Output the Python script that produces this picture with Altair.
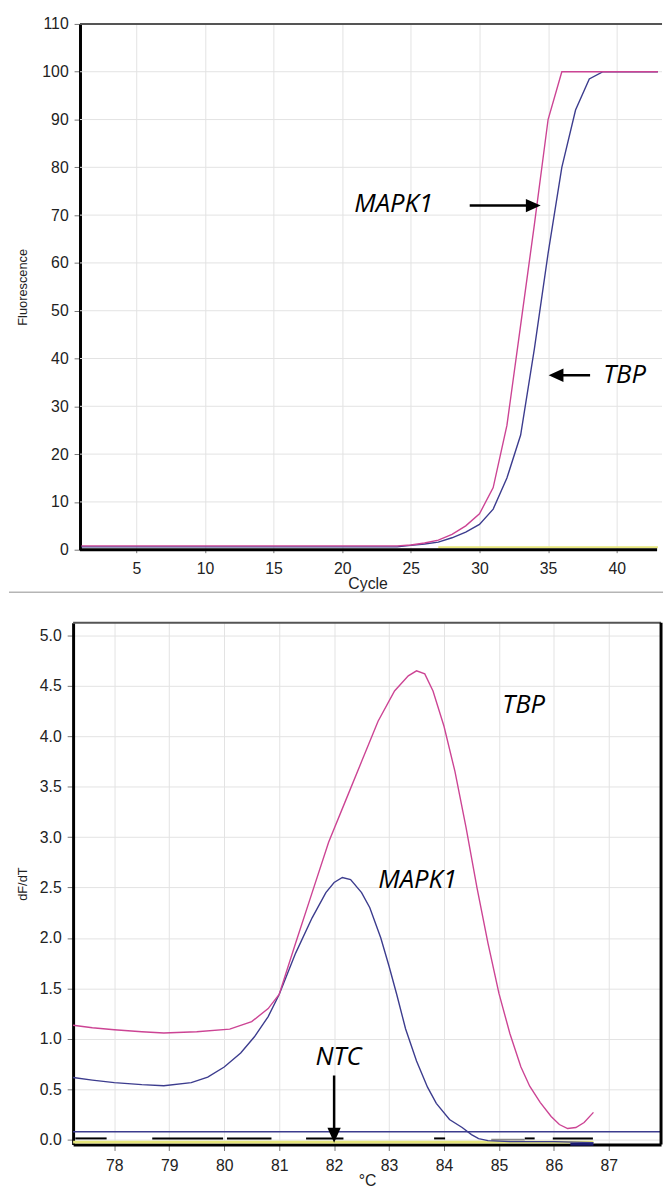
import altair as alt
import pandas as pd

# ---------------- Amplification plot (top) ----------------
cycles = [1, 2, 3, 4, 5, 6, 7, 8, 9, 10, 11, 12, 13, 14, 15, 16, 17, 18, 19, 20,
          21, 22, 23, 24, 25, 26, 27, 28, 29, 30, 31, 32, 33, 34, 35, 36, 37, 38,
          39, 40, 41, 42, 43]
mapk1_amp = [0.8, 0.8, 0.8, 0.8, 0.8, 0.8, 0.8, 0.8, 0.8, 0.8, 0.8, 0.8, 0.8, 0.8,
             0.8, 0.8, 0.8, 0.8, 0.8, 0.8, 0.8, 0.8, 0.8, 0.8, 1.0, 1.4, 2.0, 3.2,
             5.0, 7.5, 13.0, 26.0, 47.0, 68.0, 90.0, 100.0, 100.0, 100.0, 100.0,
             100.0, 100.0, 100.0, 100.0]
tbp_amp = [0.6, 0.6, 0.6, 0.6, 0.6, 0.6, 0.6, 0.6, 0.6, 0.6, 0.6, 0.6, 0.6, 0.6,
           0.6, 0.6, 0.6, 0.6, 0.6, 0.6, 0.6, 0.6, 0.6, 0.6, 0.9, 1.2, 1.6, 2.5,
           3.7, 5.3, 8.5, 15.0, 24.0, 42.0, 62.0, 80.0, 92.0, 98.5, 100.0, 100.0,
           100.0, 100.0, 100.0]
ntc_amp_cycles = [27, 43]
ntc_amp_values = [0.5, 0.5]

amp_x_ticks = [5, 10, 15, 20, 25, 30, 35, 40]
amp_y_ticks = [0, 10, 20, 30, 40, 50, 60, 70, 80, 90, 100, 110]
amp_grid_y = [10, 20, 30, 40, 50, 60, 70, 80, 90, 100]

amp_label_text = ["MAPK1", "TBP"]
amp_label_cycle = [23.75, 40.57]
amp_label_fluor = [72.3, 36.5]
amp_arrow_start = [29.29, 38.06]
amp_arrow_shaft_end = [33.9, 35.6]
amp_arrow_tip = [34.46, 35.04]
amp_arrow_fluor = [72.0, 36.5]

# ---------------- Melt curve (bottom) ----------------
tbp_melt_temp = [77.25, 77.6, 78.0, 78.5, 78.9, 79.5, 80.1, 80.5, 80.8, 81.0, 81.3,
                 81.6, 81.9, 82.2, 82.5, 82.8, 83.1, 83.35, 83.5, 83.65, 83.8, 84.0,
                 84.2, 84.4, 84.6, 84.8, 85.0, 85.2, 85.4, 85.56, 85.75, 85.95, 86.1,
                 86.25, 86.4, 86.55, 86.72]
tbp_melt_dfdt = [1.135, 1.11, 1.09, 1.07, 1.057, 1.07, 1.096, 1.17, 1.3, 1.44, 1.95,
                 2.45, 2.95, 3.35, 3.75, 4.15, 4.45, 4.6, 4.65, 4.62, 4.45, 4.1,
                 3.65, 3.1, 2.5, 1.95, 1.45, 1.05, 0.72, 0.53, 0.37, 0.23, 0.15,
                 0.11, 0.12, 0.17, 0.27]
mapk1_melt_temp = [77.25, 77.6, 78.0, 78.5, 78.9, 79.4, 79.7, 80.0, 80.3, 80.55, 80.8,
                   81.0, 81.3, 81.6, 81.85, 82.0, 82.15, 82.3, 82.5, 82.65, 82.85,
                   83.0, 83.14, 83.3, 83.5, 83.7, 83.86, 84.1, 84.33, 84.5, 84.63,
                   84.8, 85.2, 86.0, 86.72]
mapk1_melt_dfdt = [0.616, 0.59, 0.565, 0.545, 0.535, 0.565, 0.62, 0.72, 0.86, 1.02,
                   1.22, 1.44, 1.85, 2.2, 2.45, 2.55, 2.6, 2.58, 2.45, 2.3, 2.0, 1.72,
                   1.44, 1.1, 0.78, 0.52, 0.36, 0.2, 0.12, 0.05, 0.01, -0.01, -0.02,
                   -0.02, -0.03]
threshold_temp = [77.25, 87.95]
threshold_dfdt = [0.078, 0.078]
ntc_yellow_temp = [77.25, 86.72]
ntc_yellow_dfdt = [-0.025, -0.025]
ntc_seg_start = [77.29, 78.69, 80.05, 81.49, 83.82, 85.47, 85.98]
ntc_seg_end = [77.86, 79.98, 80.86, 82.17, 84.02, 85.65, 86.71]
ntc_seg_dfdt = [0.012, 0.012, 0.012, 0.012, 0.012, 0.012, 0.012]
gray_seg_start = [84.86]
gray_seg_end = [85.47]
gray_seg_dfdt = [0.0]
navy_seg_start = [86.3]
navy_seg_end = [86.72]
navy_seg_dfdt = [-0.045]

melt_x_ticks = [78, 79, 80, 81, 82, 83, 84, 85, 86, 87]
melt_y_ticks = [0.0, 0.5, 1.0, 1.5, 2.0, 2.5, 3.0, 3.5, 4.0, 4.5, 5.0]

melt_label_text = ["TBP", "MAPK1", "NTC"]
melt_label_temp = [85.45, 83.52, 82.08]
melt_label_dfdt = [4.31, 2.57, 0.82]
ntc_arrow_temp = [82.0]
ntc_arrow_start = [0.636]
ntc_arrow_shaft_end = [0.07]
ntc_arrow_tip = [-0.03]

# ---------------- styling ----------------
FONT = "Liberation Sans"
ANN_FONT = "Open Sans"
PINK = "#cc4494"
NAVY = "#3c3c8e"
YELLOW = "#e6e67a"
GRID = "#e3e3e3"
TICK = "#777777"
RIGHT_HEAD = "M0,0L-2,-0.9L-2,0.9Z"
LEFT_HEAD = "M0,0L2,-0.9L2,0.9Z"
DOWN_HEAD = "M0,0L-0.9,-2L0.9,-2Z"
LABEL_SIZE = 16
XTITLE_SIZE = 16
YTITLE_SIZE = 13
ANN_SIZE = 26

# ---------------- top chart ----------------
TOP_W, TOP_H = 597, 533
amp_xscale = alt.Scale(domain=[0.397, 43.3], nice=False, zero=False)
amp_yscale = alt.Scale(domain=[0, 110], nice=False, zero=False)
amp_xaxis = alt.Axis(values=amp_x_ticks, grid=True, gridColor=GRID, domain=False,
                     tickSize=3, tickColor=TICK, labelPadding=8,
                     labelFontSize=LABEL_SIZE, title="Cycle",
                     titleFontSize=XTITLE_SIZE, titlePadding=-1)
amp_yaxis = alt.Axis(values=amp_y_ticks, grid=False, offset=-7, domainColor="black",
                     domainWidth=3, tickSize=6, tickColor=TICK, labelPadding=6,
                     labelFontSize=LABEL_SIZE, title="Fluorescence",
                     titleFontSize=YTITLE_SIZE, titlePadding=13)
AX = alt.X("Cycle:Q", scale=amp_xscale, axis=amp_xaxis)
AY = alt.Y("Fluorescence:Q", scale=amp_yscale, axis=amp_yaxis)

def amp_line(xs, ys, color, width):
    df = pd.DataFrame({"Cycle": xs, "Fluorescence": ys})
    return alt.Chart(df).mark_line(color=color, strokeWidth=width).encode(x=AX, y=AY)

one = pd.DataFrame({"k": [0]})

amp_hgrid = alt.Chart(pd.DataFrame({"Fluorescence": amp_grid_y})).mark_rule(
    color=GRID, strokeWidth=1).encode(y=AY, x=alt.value(7), x2=alt.value(TOP_W))
amp_ntc = amp_line(ntc_amp_cycles, ntc_amp_values, YELLOW, 2)
amp_tbp = amp_line(cycles, tbp_amp, NAVY, 1.4)
amp_mapk1 = amp_line(cycles, mapk1_amp, PINK, 1.4)
amp_top_border = alt.Chart(one).mark_rule(color="#555555", strokeWidth=2).encode(
    y=alt.value(0), x=alt.value(7), x2=alt.value(TOP_W))
amp_bottom_line = alt.Chart(one).mark_rule(color="black", strokeWidth=3).encode(
    y=alt.value(TOP_H), x=alt.value(7), x2=alt.value(592))

amp_arrows = pd.DataFrame({"Cycle": amp_arrow_start, "Cycle2": amp_arrow_shaft_end,
                           "Fluorescence": amp_arrow_fluor})
amp_shafts = alt.Chart(amp_arrows).mark_rule(color="black", strokeWidth=2.5).encode(
    x=AX, x2="Cycle2:Q", y=AY)
amp_head_r = alt.Chart(pd.DataFrame({"Cycle": [amp_arrow_tip[0]],
                                     "Fluorescence": [amp_arrow_fluor[0]]})).mark_point(
    shape=RIGHT_HEAD, size=225, filled=True, color="black", opacity=1, strokeWidth=0
).encode(x=AX, y=AY)
amp_head_l = alt.Chart(pd.DataFrame({"Cycle": [amp_arrow_tip[1]],
                                     "Fluorescence": [amp_arrow_fluor[1]]})).mark_point(
    shape=LEFT_HEAD, size=225, filled=True, color="black", opacity=1, strokeWidth=0
).encode(x=AX, y=AY)
amp_labels = alt.Chart(pd.DataFrame({"Cycle": amp_label_cycle,
                                     "Fluorescence": amp_label_fluor,
                                     "label": amp_label_text})).mark_text(
    font=ANN_FONT, fontStyle="italic", fontSize=ANN_SIZE, color="black",
    align="center", baseline="middle").encode(x=AX, y=AY, text="label:N")

top = alt.layer(amp_hgrid, amp_ntc, amp_tbp, amp_mapk1, amp_top_border,
                amp_bottom_line, amp_shafts, amp_head_r, amp_head_l,
                amp_labels).properties(width=TOP_W, height=TOP_H)

# ---------------- bottom chart ----------------
BOT_W, BOT_H = 596, 529
melt_xscale = alt.Scale(domain=[77.25, 87.95], nice=False, zero=False)
melt_yscale = alt.Scale(domain=[-0.049, 5.127], nice=False, zero=False)
melt_xaxis = alt.Axis(values=melt_x_ticks, format="d", grid=True, gridColor=GRID,
                      domainColor="black", domainWidth=3, tickSize=6, tickColor=TICK,
                      labelPadding=7, labelFontSize=LABEL_SIZE, title="°C",
                      titleFontSize=XTITLE_SIZE, titlePadding=0)
melt_yaxis = alt.Axis(values=melt_y_ticks, format=".1f", grid=True, gridColor=GRID,
                      domainColor="black", domainWidth=3, tickSize=6, tickColor=TICK,
                      labelPadding=6, labelFontSize=LABEL_SIZE, title="dF/dT",
                      titleFontSize=YTITLE_SIZE, titlePadding=10)
MX = alt.X("Temp:Q", scale=melt_xscale, axis=melt_xaxis)
MY = alt.Y("dFdT:Q", scale=melt_yscale, axis=melt_yaxis)

def melt_line(xs, ys, color, width):
    df = pd.DataFrame({"Temp": xs, "dFdT": ys})
    return alt.Chart(df).mark_line(color=color, strokeWidth=width).encode(x=MX, y=MY)

def melt_segments(starts, ends, levels, color, width):
    df = pd.DataFrame({"Temp": starts, "Temp2": ends, "dFdT": levels})
    return alt.Chart(df).mark_rule(color=color, strokeWidth=width).encode(
        x=MX, x2="Temp2:Q", y=MY)

m_yellow = melt_line(ntc_yellow_temp, ntc_yellow_dfdt, YELLOW, 3)
m_threshold = melt_line(threshold_temp, threshold_dfdt, NAVY, 1.5)
m_ntc = melt_segments(ntc_seg_start, ntc_seg_end, ntc_seg_dfdt, "black", 2)
m_gray = melt_segments(gray_seg_start, gray_seg_end, gray_seg_dfdt, "#888888", 2)
m_navy = melt_segments(navy_seg_start, navy_seg_end, navy_seg_dfdt, "#1a1a70", 3)
m_mapk1 = melt_line(mapk1_melt_temp, mapk1_melt_dfdt, NAVY, 1.4)
m_tbp = melt_line(tbp_melt_temp, tbp_melt_dfdt, PINK, 1.4)

m_top_border = alt.Chart(one).mark_rule(color="#555555", strokeWidth=2).encode(
    y=alt.value(0), x=alt.value(0), x2=alt.value(BOT_W))
m_right_border = alt.Chart(one).mark_rule(color="black", strokeWidth=3).encode(
    x=alt.value(BOT_W), y=alt.value(0), y2=alt.value(BOT_H))
m_separator = alt.Chart(one).mark_rule(color="#b5b5b5", strokeWidth=1.5).encode(
    y=alt.value(-31), x=alt.value(-65), x2=alt.value(598))

m_shaft = alt.Chart(pd.DataFrame({"Temp": ntc_arrow_temp, "dFdT": ntc_arrow_start,
                                  "dFdT2": ntc_arrow_shaft_end})).mark_rule(
    color="black", strokeWidth=2.5).encode(x=MX, y=MY, y2="dFdT2:Q")
m_head = alt.Chart(pd.DataFrame({"Temp": ntc_arrow_temp, "dFdT": ntc_arrow_tip})).mark_point(
    shape=DOWN_HEAD, size=225, filled=True, color="black", opacity=1, strokeWidth=0
).encode(x=MX, y=MY)
m_labels = alt.Chart(pd.DataFrame({"Temp": melt_label_temp, "dFdT": melt_label_dfdt,
                                   "label": melt_label_text})).mark_text(
    font=ANN_FONT, fontStyle="italic", fontSize=ANN_SIZE, color="black",
    align="center", baseline="middle").encode(x=MX, y=MY, text="label:N")

bottom = alt.layer(m_yellow, m_threshold, m_ntc, m_gray, m_navy, m_mapk1, m_tbp,
                   m_top_border, m_right_border, m_separator, m_shaft, m_head,
                   m_labels).properties(width=BOT_W, height=BOT_H)

chart = alt.vconcat(top, bottom, spacing=0).properties(
    padding={"left": 0, "top": 0, "right": 0, "bottom": 0}
).configure_view(stroke=None).configure_axis(
    labelFont=FONT, titleFont=FONT, labelColor="#222222", titleColor="#222222",
    titleFontWeight="normal"
)

chart.save("out.html", embed_options={"renderer": "svg", "actions": False})
